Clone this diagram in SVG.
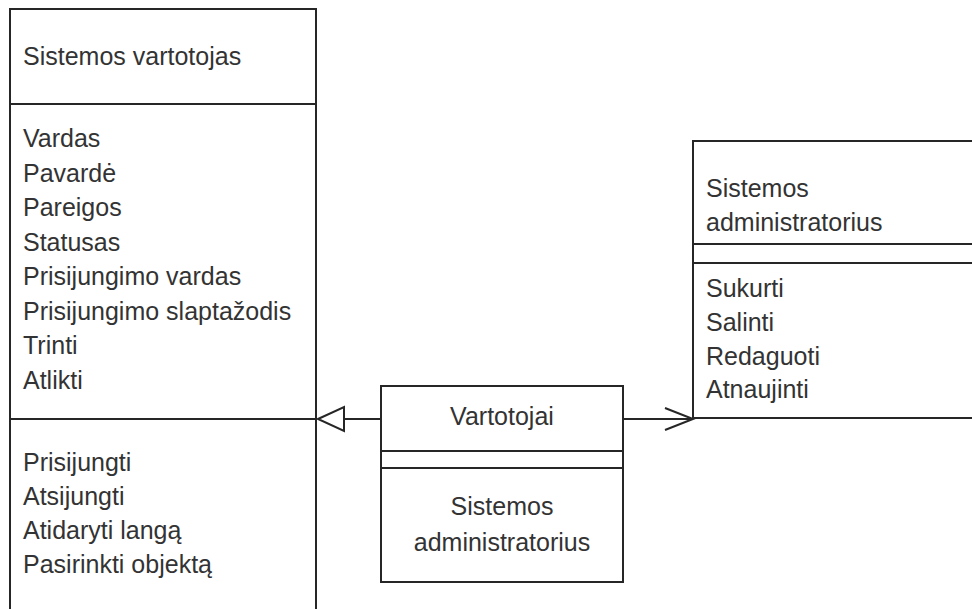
<svg xmlns="http://www.w3.org/2000/svg" width="972" height="609" viewBox="0 0 972 609">
<style>
.box{fill:#fff;stroke:#262626;stroke-width:2}
.ln{stroke:#262626;stroke-width:2;fill:none}
.t{font-family:"Liberation Sans",Arial,sans-serif;font-size:25px;fill:#333}
.c{text-anchor:middle}
</style>
<rect width="972" height="609" fill="#fff"/>
<g id="connectors">
<line class="ln" x1="344" y1="419" x2="381" y2="419"/>
<polygon class="ln" points="318,419 344,407 344,431" fill="#fff"/>
<line class="ln" x1="623" y1="419" x2="693" y2="419"/>
<polyline class="ln" points="665,408 693,419 665,430"/>
</g>
<g id="sistemos-vartotojas">
<rect class="box" x="10" y="9" width="306" height="720"/>
<line class="ln" x1="10" y1="104" x2="316" y2="104"/>
<line class="ln" x1="10" y1="419" x2="316" y2="419"/>
<text class="t" x="23" y="65">Sistemos vartotojas</text>
<text class="t" x="23" y="147">Vardas</text>
<text class="t" x="23" y="181.5">Pavardė</text>
<text class="t" x="23" y="216">Pareigos</text>
<text class="t" x="23" y="250.5">Statusas</text>
<text class="t" x="23" y="285">Prisijungimo vardas</text>
<text class="t" x="23" y="319.5">Prisijungimo slaptažodis</text>
<text class="t" x="23" y="354">Trinti</text>
<text class="t" x="23" y="388.5">Atlikti</text>
<text class="t" x="23" y="471">Prisijungti</text>
<text class="t" x="23" y="505">Atsijungti</text>
<text class="t" x="23" y="539">Atidaryti langą</text>
<text class="t" x="23" y="573">Pasirinkti objektą</text>
</g>
<g id="vartotojai">
<rect class="box" x="381" y="386" width="242" height="196"/>
<line class="ln" x1="381" y1="451" x2="623" y2="451"/>
<line class="ln" x1="381" y1="468" x2="623" y2="468"/>
<text class="t c" x="502" y="425">Vartotojai</text>
<text class="t c" x="502" y="515">Sistemos</text>
<text class="t c" x="502" y="551">administratorius</text>
</g>
<g id="sistemos-administratorius">
<path class="box" d="M980,141 H693 V418 H980"/>
<line class="ln" x1="693" y1="244" x2="980" y2="244"/>
<line class="ln" x1="693" y1="263" x2="980" y2="263"/>
<text class="t" x="706" y="197">Sistemos</text>
<text class="t" x="706" y="231">administratorius</text>
<text class="t" x="706" y="297">Sukurti</text>
<text class="t" x="706" y="331">Salinti</text>
<text class="t" x="706" y="365">Redaguoti</text>
<text class="t" x="706" y="398">Atnaujinti</text>
</g>
</svg>
